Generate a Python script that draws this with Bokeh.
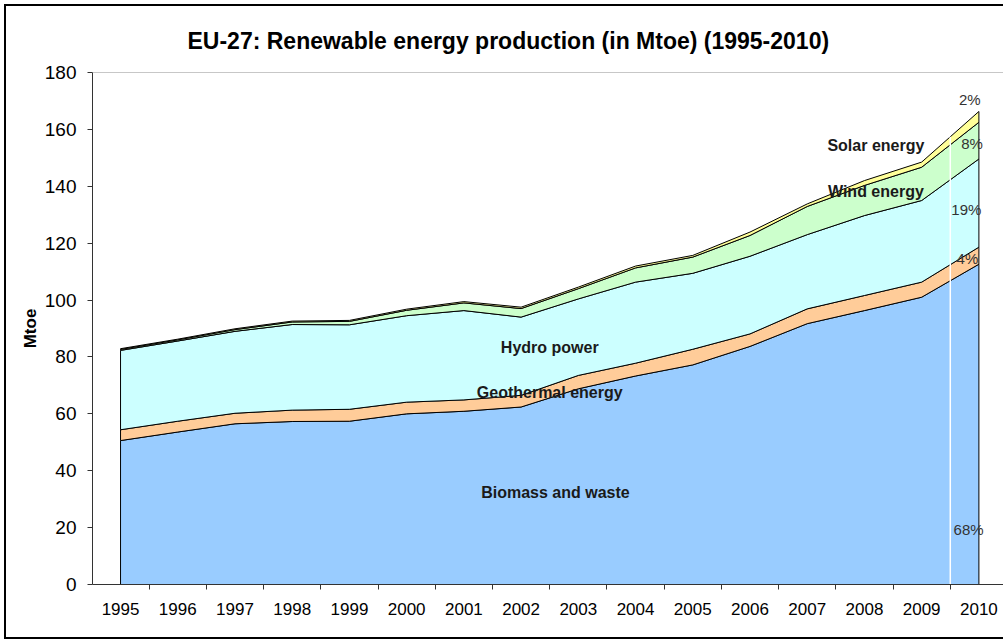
from bokeh.plotting import figure
from bokeh.models import Range1d, FixedTicker, Span, Title
from bokeh.core.properties import value
from bokeh.embed import file_html
from bokeh.resources import INLINE
import numpy as np

# ---- data (Mtoe) ----
years = list(range(1995, 2011))
biomass = [50.6, 53.6, 56.5, 57.3, 57.4, 60.0, 60.9, 62.4, 68.8, 73.3, 77.2, 83.7, 91.7, 96.3, 101.0, 112.6]
geothermal = [3.8, 3.8, 3.7, 4.0, 4.2, 4.1, 4.0, 4.1, 4.7, 4.5, 5.5, 4.4, 5.2, 5.3, 5.3, 6.0]
hydro = [27.9, 28.2, 28.8, 30.1, 29.7, 30.4, 31.4, 27.5, 26.9, 28.5, 26.7, 27.3, 26.1, 28.1, 28.7, 31.0]
wind = [0.35, 0.4, 0.6, 0.9, 1.2, 1.9, 2.7, 3.0, 3.6, 5.0, 5.7, 7.3, 9.9, 10.6, 11.7, 12.9]
solar = [0.25, 0.25, 0.3, 0.3, 0.35, 0.4, 0.45, 0.5, 0.55, 0.65, 0.6, 1.2, 0.9, 1.7, 1.8, 3.8]

series_names = ["Biomass and waste", "Geothermal energy", "Hydro power", "Wind energy", "Solar energy"]
pct_labels = ["68%", "4%", "19%", "8%", "2%"]
y_ticks = list(range(0, 181, 20))

# ---- styling / annotation positions ----
colors = ["#99CCFF", "#FFCC99", "#CCFFFF", "#CCFFCC", "#FFFF99"]
name_pos_x = [2002.6, 2002.5, 2002.5, 2008.2, 2008.2]
name_pos_y = [32.3, 67.5, 83.3, 138.2, 154.4]
pct_pos_x = [2009.82, 2009.8, 2009.78, 2009.88, 2009.84]
pct_pos_y = [19.3, 114.6, 131.9, 155.1, 170.5]

FONT = "Liberation Sans"

p = figure(width=1003, height=643,
           x_range=Range1d(1994.51, 2010.43), y_range=Range1d(0, 180),
           output_backend="svg", toolbar_location=None,
           min_border_left=92, min_border_right=0, min_border_top=72, min_border_bottom=59)
p.xgrid.visible = False
p.ygrid.visible = False
p.outline_line_color = None
p.background_fill_color = "white"
p.border_fill_color = None
# outer chart frame (left, top, bottom edges)
p.styles = {
    "background-color": "white",
    "box-shadow": ("inset 4px 4px 0 0 white, inset 0 -4px 0 0 white, "
                   "inset 6px 6px 0 0 black, inset 0 -6px 0 0 black"),
}

bottom = np.zeros(len(years))
for s, c in zip([biomass, geothermal, hydro, wind, solar], colors):
    top = bottom + np.array(s)
    xs = years + years[::-1]
    ys = list(top) + list(bottom[::-1])
    p.patch(xs, ys, fill_color=c, line_color="black", line_width=1)
    bottom = top

total = bottom
# white seam at the last category boundary
p.segment(x0=[years[-1] - 0.5], y0=[0], x1=[years[-1] - 0.5],
          y1=[(total[-2] + total[-1]) / 2], line_color="white", line_width=1.5)

# top border line of plot area
p.add_layout(Span(location=180, dimension="width", line_color="#909090", line_width=1))

# x axis
xa = p.xaxis[0]
xa.ticker = FixedTicker(ticks=years, minor_ticks=[y - 0.5 for y in years])
xa.major_tick_out = 0
xa.major_tick_in = 0
xa.minor_tick_out = 5
xa.minor_tick_in = 0
xa.minor_tick_line_color = "#333333"
xa.axis_line_color = "#333333"
xa.major_label_text_font = FONT
xa.major_label_text_font_size = "17px"
xa.major_label_text_color = "black"
xa.major_label_standoff = 13

# y axis
ya = p.yaxis[0]
ya.ticker = FixedTicker(ticks=y_ticks)
ya.major_tick_out = 5
ya.major_tick_in = 0
ya.major_tick_line_color = "#333333"
ya.minor_tick_line_color = None
ya.axis_line_color = "#333333"
ya.major_label_text_font = FONT
ya.major_label_text_font_size = "19px"
ya.major_label_text_color = "black"
ya.major_label_standoff = 11
ya.axis_label = "Mtoe"
ya.axis_label_text_font = FONT
ya.axis_label_text_font_style = "bold"
ya.axis_label_text_font_size = "17px"
ya.axis_label_text_color = "black"
ya.axis_label_standoff = 2

# series labels
p.text(x=name_pos_x, y=name_pos_y, text=series_names,
       text_font=value(FONT), text_font_style="bold", text_font_size="16px",
       text_color="#1a1a1a", text_align="center", text_baseline="middle")
p.text(x=pct_pos_x, y=pct_pos_y, text=pct_labels,
       text_font=value(FONT), text_font_size="15px",
       text_color="#333333", text_align="center", text_baseline="middle")

# title
p.add_layout(Title(text="EU-27: Renewable energy production (in Mtoe) (1995-2010)",
                   text_font=FONT, text_font_style="bold", text_font_size="23px",
                   text_color="black", align="left", offset=95, standoff=38), "above")

open("out.html", "w").write(file_html(p, INLINE))
